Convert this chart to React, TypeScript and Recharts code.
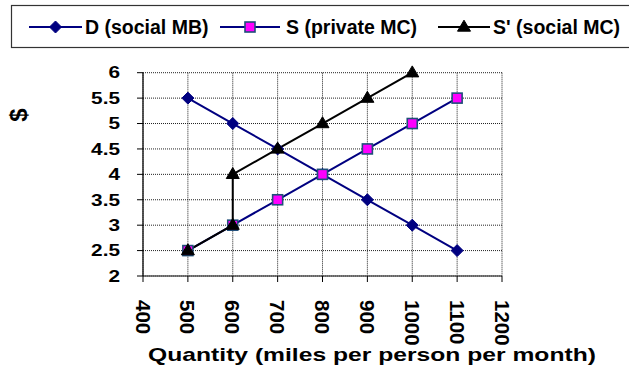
import React from "react";
import { LineChart, Line, XAxis, YAxis, CartesianGrid, Label } from "recharts";

// Quantity (miles per person per month) and $ values for each curve
const demandQty = [500, 600, 700, 800, 900, 1000, 1100];
const demandPrice = [5.5, 5, 4.5, 4, 3.5, 3, 2.5];

const privateQty = [500, 600, 700, 800, 900, 1000, 1100];
const privateCost = [2.5, 3, 3.5, 4, 4.5, 5, 5.5];

const socialQty = [500, 600, 600, 700, 800, 900, 1000];
const socialCost = [2.5, 3, 4, 4.5, 5, 5.5, 6];

const xTicks = [400, 500, 600, 700, 800, 900, 1000, 1100, 1200];
const yTicks = [2, 2.5, 3, 3.5, 4, 4.5, 5, 5.5, 6];

const seriesNames = ["D (social MB)", "S (private MC)", "S' (social MC)"];

const zip = (xs: number[], ys: number[]) => xs.map((x, i) => ({ x, y: ys[i] }));

const demandData = zip(demandQty, demandPrice);
const privateData = zip(privateQty, privateCost);
const socialData = zip(socialQty, socialCost);

const FONT = "'Liberation Sans', Arial, sans-serif";
const NAVY = "#000080";
const MAGENTA = "#FF00FF";
const SQUARE_EDGE = "#1F4E79";

// marker shapes; sizes use their own prop names so the dot props Recharts
// passes in (r, width, height) do not override them
const Diamond = ({ cx, cy, half = 6 }: any) =>
  cx == null || cy == null ? null : (
    <polygon
      points={`${cx},${cy - half} ${cx + half},${cy} ${cx},${cy + half} ${cx - half},${cy}`}
      fill={NAVY}
      stroke={NAVY}
      strokeWidth={1}
    />
  );

const Square = ({ cx, cy, side = 10 }: any) =>
  cx == null || cy == null ? null : (
    <rect
      x={cx - side / 2}
      y={cy - side / 2}
      width={side}
      height={side}
      fill={MAGENTA}
      stroke={SQUARE_EDGE}
      strokeWidth={1.6}
    />
  );

const Triangle = ({ cx, cy, triW = 13, triH = 11 }: any) =>
  cx == null || cy == null ? null : (
    <polygon
      points={`${cx},${cy - triH * 0.62} ${cx + triW / 2},${cy + triH * 0.38} ${cx - triW / 2},${cy + triH * 0.38}`}
      fill="#000"
      stroke="#000"
      strokeWidth={1}
    />
  );

const YTick = ({ x, y, payload }: any) => (
  <g transform={`translate(${x},${y})`}>
    <text
      transform="scale(1.3,1)"
      textAnchor="end"
      dy="0.36em"
      fontFamily={FONT}
      fontWeight="bold"
      fontSize={16}
      fill="#000"
    >
      {String(payload.value)}
    </text>
  </g>
);

const XTick = ({ x, y, payload }: any) => (
  <text
    transform={`translate(${x},${y}) rotate(90)`}
    textAnchor="start"
    dy="0.36em"
    fontFamily={FONT}
    fontWeight="bold"
    fontSize={20.5}
    fill="#000"
  >
    {String(payload.value)}
  </text>
);

const legendIcons = [
  (cx: number, cy: number) => <Diamond cx={cx} cy={cy} half={6} />,
  (cx: number, cy: number) => <Square cx={cx} cy={cy} side={10} />,
  (cx: number, cy: number) => <Triangle cx={cx} cy={cy} />,
];
const legendColors = [NAVY, NAVY, "#000"];
// horizontal placement of each legend entry: line start, line end, text start
const legendSlots = [
  [29, 82, 85],
  [220, 280, 286],
  [438, 490, 493],
];

const ChartLegend = () => (
  <svg width={629} height={60} style={{ position: "absolute", left: 0, top: 0 }}>
    <rect x={11.5} y={5.5} width={640} height={42} fill="#fff" stroke="#333" strokeWidth={1.2} />
    {seriesNames.map((name, i) => {
      const [x0, x1, tx] = legendSlots[i];
      const cy = 27;
      return (
        <g key={name}>
          <line x1={x0} y1={cy} x2={x1} y2={cy} stroke={legendColors[i]} strokeWidth={2} />
          {legendIcons[i]((x0 + x1) / 2, cy)}
          <text
            x={tx}
            y={cy}
            dy="0.36em"
            fontFamily={FONT}
            fontWeight="bold"
            fontSize={19.5}
            fill="#000"
          >
            {name}
          </text>
        </g>
      );
    })}
  </svg>
);

export default function App() {
  return (
    <div
      style={{
        position: "fixed",
        left: 0,
        top: 0,
        width: 629,
        height: 373,
        overflow: "hidden",
        background: "#fff",
      }}
    >
      <LineChart width={629} height={373} margin={{ top: 72.7, right: 127, bottom: 0, left: 0 }}>
        <CartesianGrid stroke="#222" strokeDasharray="1 1" />
        <XAxis
          type="number"
          dataKey="x"
          domain={[400, 1200]}
          ticks={xTicks}
          interval={0}
          height={97}
          tickSize={6}
          tickMargin={18}
          tick={<XTick />}
          axisLine={{ stroke: "#555", strokeWidth: 1.5 }}
          tickLine={{ stroke: "#000" }}
          allowDataOverflow
        >
          <Label
            content={() => (
              <text
                transform="translate(372,361) scale(1.37,1)"
                textAnchor="middle"
                fontFamily={FONT}
                fontWeight="bold"
                fontSize={18}
                fill="#000"
              >
                Quantity (miles per person per month)
              </text>
            )}
          />
        </XAxis>
        <YAxis
          type="number"
          domain={[2, 6]}
          ticks={yTicks}
          interval={0}
          width={143}
          tickSize={6}
          tickMargin={17}
          tick={<YTick />}
          axisLine={{ stroke: "#000", strokeWidth: 1.2 }}
          tickLine={{ stroke: "#000" }}
        >
          <Label
            content={() => (
              <text
                transform="translate(18,115) rotate(-90)"
                textAnchor="middle"
                dy="0.36em"
                fontFamily={FONT}
                fontWeight="bold"
                fontSize={24}
                fill="#000"
              >
                $
              </text>
            )}
          />
        </YAxis>
        <Line
          data={demandData}
          dataKey="y"
          name={seriesNames[0]}
          stroke={NAVY}
          strokeWidth={2}
          dot={<Diamond />}
          activeDot={false}
          isAnimationActive={false}
        />
        <Line
          data={privateData}
          dataKey="y"
          name={seriesNames[1]}
          stroke={NAVY}
          strokeWidth={2}
          dot={<Square />}
          activeDot={false}
          isAnimationActive={false}
        />
        <Line
          data={socialData}
          dataKey="y"
          name={seriesNames[2]}
          stroke="#000"
          strokeWidth={2}
          dot={<Triangle />}
          activeDot={false}
          isAnimationActive={false}
        />
      </LineChart>
      <ChartLegend />
    </div>
  );
}
